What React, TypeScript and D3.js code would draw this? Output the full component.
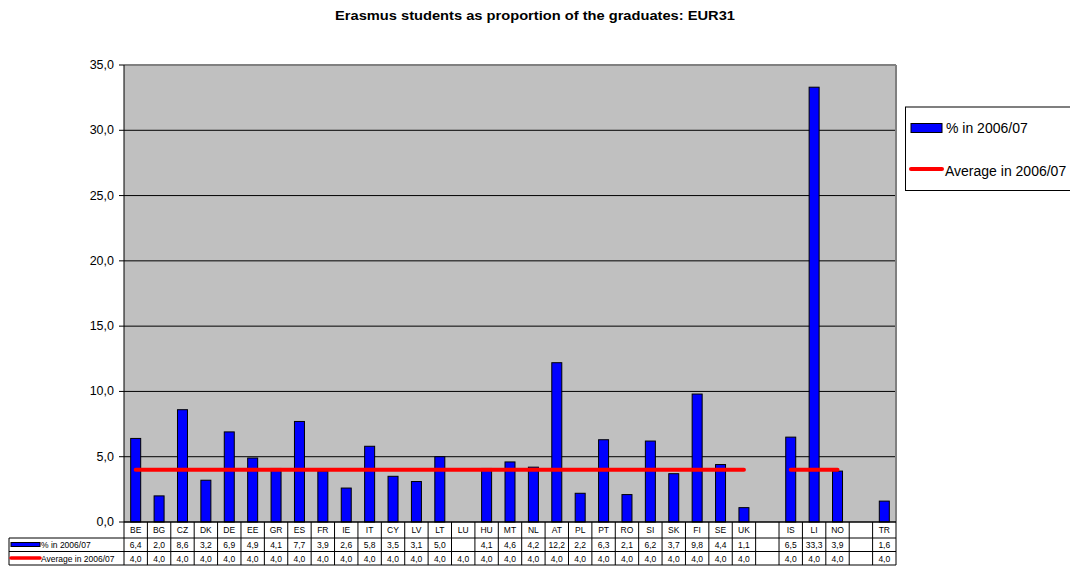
import React from "react";
import * as d3 from "d3";

const categories = ["BE","BG","CZ","DK","DE","EE","GR","ES","FR","IE","IT","CY","LV","LT","LU","HU","MT","NL","AT","PL","PT","RO","SI","SK","FI","SE","UK","","IS","LI","NO","","TR"];
const share: (number | null)[] = [6.4,2.0,8.6,3.2,6.9,4.9,4.1,7.7,3.9,2.6,5.8,3.5,3.1,5.0,null,4.1,4.6,4.2,12.2,2.2,6.3,2.1,6.2,3.7,9.8,4.4,1.1,null,6.5,33.3,3.9,null,1.6];
const average: (number | null)[] = [4.0,4.0,4.0,4.0,4.0,4.0,4.0,4.0,4.0,4.0,4.0,4.0,4.0,4.0,4.0,4.0,4.0,4.0,4.0,4.0,4.0,4.0,4.0,4.0,4.0,4.0,4.0,null,4.0,4.0,4.0,null,4.0];
const yTicks = [0,5,10,15,20,25,30,35];
const seriesNames = ["% in 2006/07", "Average in 2006/07"];
const title = "Erasmus students as proportion of the graduates: EUR31";

const W = 1070, H = 566;
const L = 124, R = 896, T = 65, B = 522;
const FONT = "'Liberation Sans', Arial, sans-serif";
const fmt = (v: number) => v.toFixed(1).replace(".", ",");

export default function App() {
  const x = d3.scaleBand<number>().domain(d3.range(categories.length)).range([L, R]);
  const y = d3.scaleLinear().domain([0, 35]).range([B, T]);
  const bw = x.bandwidth();
  const barW = 10;
  // a point with no neighbour has no segment to draw (line charts show nothing there)
  const hasSegment = (i: number) =>
    average[i] !== null && ((i > 0 && average[i - 1] !== null) || (i < average.length - 1 && average[i + 1] !== null));
  const line = d3.line<number | null>()
    .defined((d, i) => d !== null && hasSegment(i))
    .x((_, i) => (x(i) as number) + bw / 2)
    .y((d) => y(d as number));

  const row1 = 538, row2 = 551.5, row3 = 565;
  const cx = (i: number) => (x(i) as number) + bw / 2;

  return (
    <svg width={W} height={H} style={{ position: "absolute", left: 0, top: 0, background: "#fff" }} fontFamily={FONT}>
      <text x={335} y={20} textLength={400} lengthAdjust="spacingAndGlyphs" fontWeight="bold" fontSize={12.5}>{title}</text>
      {/* plot area */}
      <rect x={L} y={T} width={R - L} height={B - T} fill="#c0c0c0" />
      {yTicks.filter((t) => t > 0 && t < 35).map((t) => (
        <line key={t} x1={L} x2={R} y1={y(t)} y2={y(t)} stroke="#000" strokeWidth={1} />
      ))}
      <line x1={L} x2={R} y1={T} y2={T} stroke="#808080" strokeWidth={2} />
      <line x1={R} x2={R} y1={T} y2={B} stroke="#808080" strokeWidth={2} />
      {/* bars */}
      {share.map((v, i) => v === null ? null : (
        <rect key={i} x={cx(i) - barW / 2} y={y(v)} width={barW} height={B - y(v)} fill="#0000ff" stroke="#000" strokeWidth={1} />
      ))}
      <path d={line(average) || ""} fill="none" stroke="#ff0000" strokeWidth={4} strokeLinecap="round" />
      {/* y axis */}
      <line x1={L} x2={L} y1={T} y2={B} stroke="#000" strokeWidth={1} />
      {yTicks.map((t) => (
        <g key={t}>
          <line x1={L - 5} x2={L} y1={y(t)} y2={y(t)} stroke="#000" />
          <text x={114} y={y(t) + 4} textAnchor="end" fontSize={12.5}>{fmt(t)}</text>
        </g>
      ))}
      {/* data table */}
      <line x1={L} x2={R} y1={B} y2={B} stroke="#000" strokeWidth={1.5} />
      {[row1, row2, row3].map((ry) => (
        <line key={ry} x1={9} x2={R} y1={ry} y2={ry} stroke="#000" strokeWidth={1} />
      ))}
      <line x1={9} x2={9} y1={row1} y2={row3} stroke="#000" />
      {d3.range(categories.length + 1).map((i) => {
        const xx = i < categories.length ? (x(i) as number) : R;
        return <line key={i} x1={xx} x2={xx} y1={B} y2={row3} stroke="#000" strokeWidth={1} />;
      })}
      {categories.map((c, i) => (
        <text key={"c" + i} x={cx(i)} y={533} textAnchor="middle" fontSize={8.5}>{c}</text>
      ))}
      {share.map((v, i) => v === null ? null : (
        <text key={"s" + i} x={cx(i)} y={548} textAnchor="middle" fontSize={8.5}>{fmt(v)}</text>
      ))}
      {average.map((v, i) => v === null ? null : (
        <text key={"a" + i} x={cx(i)} y={561.5} textAnchor="middle" fontSize={8.5}>{fmt(v)}</text>
      ))}
      <rect x={11} y={542.5} width={29} height={4} fill="#0000ff" stroke="#000" strokeWidth={1} />
      <text x={41} y={548} fontSize={8.5}>{seriesNames[0]}</text>
      <line x1={11} x2={40} y1={558} y2={558} stroke="#ff0000" strokeWidth={3.5} strokeLinecap="round" />
      <text x={41} y={561.5} fontSize={8.5}>{seriesNames[1]}</text>
      {/* legend */}
      <rect x={905.5} y={107} width={170} height={83.5} fill="#fff" stroke="#000" strokeWidth={1} />
      <rect x={911} y={123.5} width={31} height={9} fill="#0000ff" stroke="#000" strokeWidth={1} />
      <text x={946} y={133} fontSize={14}>{seriesNames[0]}</text>
      <line x1={911} x2={942} y1={169} y2={169} stroke="#ff0000" strokeWidth={4} strokeLinecap="round" />
      <text x={945} y={176} fontSize={14}>{seriesNames[1]}</text>
    </svg>
  );
}
